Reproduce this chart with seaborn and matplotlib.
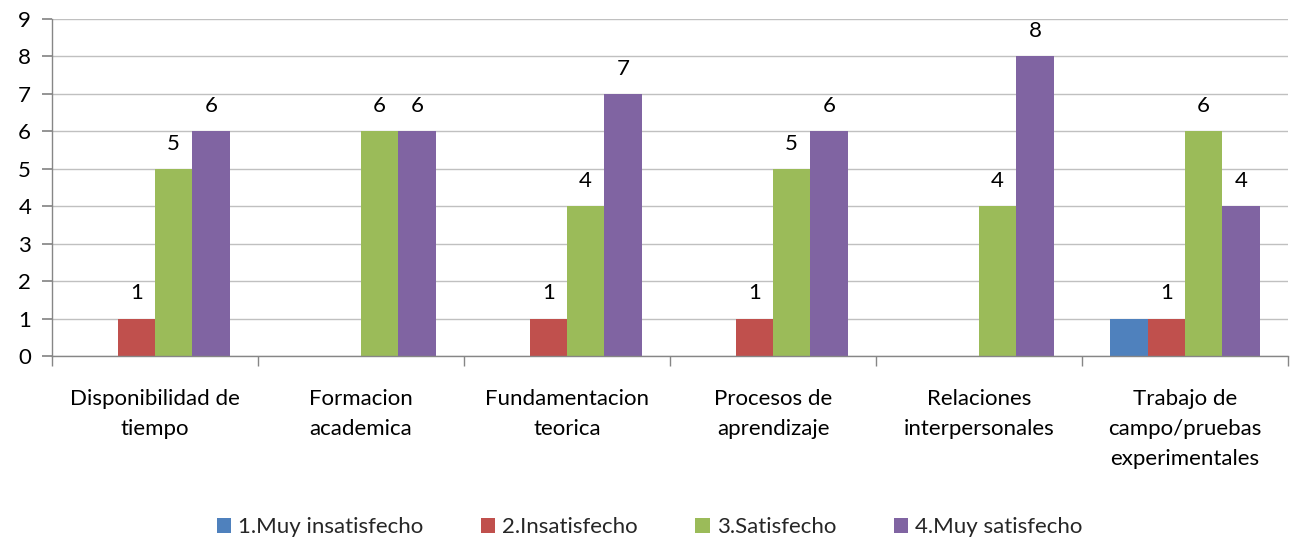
import matplotlib
matplotlib.use("Agg")
import matplotlib.pyplot as plt
import seaborn as sns
import pandas as pd
from matplotlib.ticker import FixedLocator

categories = ["Disponibilidad de\ntiempo", "Formacion\nacademica", "Fundamentacion\nteorica",
              "Procesos de\naprendizaje", "Relaciones\ninterpersonales",
              "Trabajo de\ncampo/pruebas\nexperimentales"]
series = ["1.Muy insatisfecho", "2.Insatisfecho", "3.Satisfecho", "4.Muy satisfecho"]
muy_insatisfecho = [0, 0, 0, 0, 0, 1]
insatisfecho = [1, 0, 1, 1, 0, 1]
satisfecho = [5, 6, 4, 5, 4, 6]
muy_satisfecho = [6, 6, 7, 6, 8, 4]
colors = ["#4F81BD", "#C0504D", "#9BBB59", "#8064A2"]
labelled = [False, True, True, True]

values = [muy_insatisfecho, insatisfecho, satisfecho, muy_satisfecho]
rows = []
for s, vals in zip(series, values):
    for c, v in zip(categories, vals):
        rows.append({"cat": c, "serie": s, "val": v})
df = pd.DataFrame(rows)

sns.set_theme(style="white")
plt.rcParams["font.family"] = ["Lato", "DejaVu Sans"]
FS = 16

fig = plt.figure(figsize=(12.99, 5.48), dpi=100)
ax = fig.add_axes([52/1299, 1-356/548, (1288-52)/1299, (356-19)/548])

sns.barplot(data=df, x="cat", y="val", hue="serie", palette=colors, order=categories,
            hue_order=series, width=0.724, saturation=1, ax=ax, legend=True,
            errorbar=None, linewidth=0)

for cont, lab in zip(ax.containers, labelled):
    if not lab:
        continue
    for bar in cont:
        h = bar.get_height()
        if h > 0:
            ax.annotate(f"{int(h)}", (bar.get_x() + bar.get_width()/2, h),
                        xytext=(0, 11), textcoords="offset points",
                        ha="center", va="bottom", fontsize=FS, color="black")

ax.set_ylim(0, 9)
ax.set_xlim(-0.5, len(categories) - 0.5)
ax.set_yticks(range(10))
ax.yaxis.grid(True, color="#C0C0C0", linewidth=1)
ax.set_axisbelow(True)
ax.set_xlabel("")
ax.set_ylabel("")
for side in ["top", "right"]:
    ax.spines[side].set_visible(False)
for side in ["left", "bottom"]:
    ax.spines[side].set_color("#868686")
    ax.spines[side].set_linewidth(1)

ax.tick_params(axis="y", which="major", left=True, length=7, color="#868686",
               labelsize=FS, pad=8, labelcolor="black")
ax.tick_params(axis="x", which="major", bottom=False, labelsize=FS, pad=18, labelcolor="black")
ax.xaxis.set_minor_locator(FixedLocator([i - 0.5 for i in range(len(categories) + 1)]))
ax.tick_params(axis="x", which="minor", bottom=True, length=7, color="#868686")
for t in ax.get_xticklabels():
    t.set_linespacing(1.6)

handles, labels = ax.get_legend_handles_labels()
ax.get_legend().remove()
fig.legend(handles, labels, loc="center", bbox_to_anchor=(0.5, 1 - 527/548), ncol=4,
           frameon=False, fontsize=FS, handlelength=0.65, handleheight=0.65,
           handletextpad=0.3, columnspacing=2.6)

fig.savefig("out.png", dpi=100)
